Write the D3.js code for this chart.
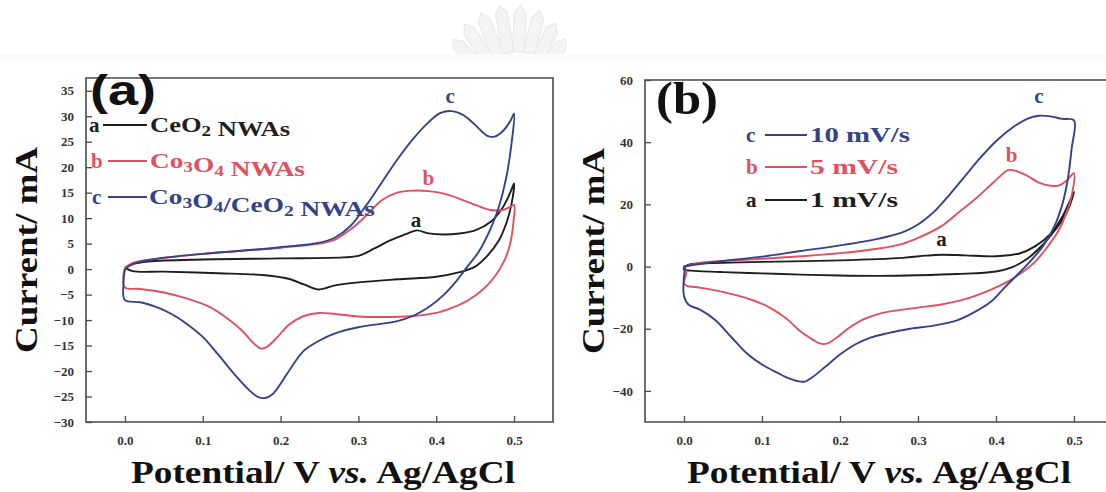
<!DOCTYPE html>
<html>
<head>
<meta charset="utf-8">
<script src="https://cdnjs.cloudflare.com/ajax/libs/d3/7.8.5/d3.min.js"></script>
<style>
  html, body { margin: 0; padding: 0; background: #fff; }
  svg { display: block; }
  text { font-family: "Liberation Serif", "Times New Roman", serif; font-weight: bold; }
</style>
</head>
<body>
<svg id="chart" width="1106" height="492"></svg>
<script>
// ---------------- DATA ----------------
const xTicks = [0.0, 0.1, 0.2, 0.3, 0.4, 0.5];
const xTickLabels = ["0.0", "0.1", "0.2", "0.3", "0.4", "0.5"];
const yTicksA = [35, 30, 25, 20, 15, 10, 5, 0, -5, -10, -15, -20, -25, -30];
const yTicksB = [60, 40, 20, 0, -20, -40];

const seriesNamesB = ["10 mV/s", "5 mV/s", "1 mV/s"];

// Panel (a): potential (V), current (mA) — closed CV loops
const cvA_CeO2 = [
  [0.0,0.3],[0.01,1.0],[0.03,1.5],[0.1,1.9],[0.2,2.1],[0.28,2.3],[0.3,2.6],[0.32,4.0],[0.34,5.6],[0.36,6.8],
  [0.375,7.6],[0.39,7.0],[0.41,6.8],[0.43,7.0],[0.45,7.6],[0.47,9.3],[0.485,12],[0.495,15],[0.5,16.8],
  [0.497,13],[0.49,9],[0.48,5.5],[0.465,2.5],[0.45,0.5],[0.43,-0.6],[0.4,-1.5],[0.35,-2.0],[0.3,-2.6],
  [0.27,-3.2],[0.248,-4.0],[0.23,-3.0],[0.21,-1.9],[0.18,-1.2],[0.12,-0.8],[0.05,-0.5],[0.01,-0.4],[0.0,0.3]
];
const cvA_Co3O4 = [
  [0.0,0.2],[0.01,1.2],[0.04,2.0],[0.1,3.0],[0.15,3.6],[0.2,4.2],[0.25,5.0],[0.27,5.8],[0.29,7.8],[0.31,10.5],
  [0.33,13.5],[0.35,15.0],[0.37,15.4],[0.39,15.3],[0.41,14.8],[0.43,13.8],[0.45,12.6],[0.47,11.6],[0.485,11.6],
  [0.495,12.2],[0.5,12.6],
  [0.499,9],[0.495,5],[0.487,1.5],[0.475,-1.5],[0.46,-4.0],[0.44,-6.2],[0.42,-7.6],[0.4,-8.6],[0.37,-9.2],
  [0.33,-9.4],[0.3,-9.3],[0.27,-8.8],[0.25,-8.6],[0.23,-9.2],[0.21,-11],[0.195,-13.5],[0.182,-15.3],[0.175,-15.6],
  [0.165,-14.5],[0.15,-12],[0.13,-9.5],[0.11,-7.5],[0.08,-5.8],[0.05,-4.6],[0.02,-3.9],[0.0,-3.6],[-0.002,-1.5],[0.0,0.2]
];
const cvA_Composite = [
  [0.0,0.0],[0.01,1.0],[0.04,2.0],[0.1,3.0],[0.15,3.6],[0.2,4.3],[0.25,5.2],[0.27,6.2],[0.29,8.5],[0.31,12.5],
  [0.33,17],[0.35,21.5],[0.37,25.5],[0.39,28.8],[0.405,30.6],[0.42,31],[0.435,30.2],[0.45,28.3],[0.465,26.2],
  [0.475,26],[0.485,27],[0.495,29],[0.5,30.5],
  [0.497,25],[0.49,18],[0.48,12],[0.47,8],[0.455,3.5],[0.44,0.5],[0.425,-2.5],[0.41,-5],[0.39,-7.5],[0.37,-9.2],
  [0.35,-10.2],[0.3,-11.4],[0.27,-12.6],[0.25,-14],[0.23,-16],[0.215,-19],[0.2,-22.5],[0.19,-24.5],[0.18,-25.3],
  [0.17,-25],[0.16,-23.8],[0.14,-20.5],[0.12,-16.8],[0.1,-13.3],[0.08,-10.8],[0.06,-8.8],[0.04,-7.4],[0.02,-6.5],
  [0.0,-6.1],[-0.002,-3],[0.0,0.0]
];

// Panel (b): composite at three scan rates
const cvB_1 = [
  [0.0,0.0],[0.01,0.8],[0.05,1.2],[0.1,1.5],[0.2,2.0],[0.28,2.8],[0.31,3.5],[0.33,3.8],[0.36,3.6],[0.4,3.3],
  [0.43,4.2],[0.45,6.5],[0.47,10.5],[0.485,16],[0.5,24],
  [0.49,17],[0.475,11.5],[0.46,7],[0.44,2.5],[0.42,-0.3],[0.4,-1.6],[0.35,-2.4],[0.3,-2.8],[0.25,-3.0],
  [0.2,-2.9],[0.15,-2.6],[0.1,-2.2],[0.05,-1.8],[0.01,-1.3],[0.0,-1.0],[0.0,0.0]
];
const cvB_5 = [
  [0.0,0.0],[0.02,1.2],[0.05,1.8],[0.1,2.5],[0.15,3.3],[0.2,4.3],[0.25,5.8],[0.28,7.3],[0.3,9.2],[0.33,13],
  [0.35,17],[0.37,21],[0.39,25.5],[0.405,29],[0.415,31],[0.425,30.8],[0.44,29.2],[0.455,27],[0.47,26],[0.48,26],
  [0.49,27.5],[0.5,30],
  [0.498,24],[0.49,17],[0.48,11.5],[0.465,6],[0.45,1.5],[0.43,-2.5],[0.41,-5.5],[0.39,-7.8],[0.36,-10.5],
  [0.33,-12.2],[0.3,-13.2],[0.27,-14.2],[0.25,-15.2],[0.23,-17],[0.21,-20],[0.195,-23],[0.183,-24.8],[0.175,-24.8],
  [0.165,-23.5],[0.15,-21],[0.13,-16.5],[0.11,-13.2],[0.09,-11],[0.06,-8.8],[0.03,-7.2],[0.015,-6.6],[0.005,-6.3],
  [0.0,-5.5],[0.003,-2],[0.0,0.0]
];
const cvB_10 = [
  [0.0,0.0],[0.02,0.8],[0.05,1.8],[0.1,3.2],[0.15,5],[0.2,6.8],[0.25,9],[0.28,11],[0.3,13.5],[0.32,17.5],
  [0.34,23],[0.36,29],[0.38,35],[0.4,40.3],[0.42,44.5],[0.44,47.5],[0.455,48.5],[0.47,48.3],[0.485,47.5],[0.5,47],
  [0.497,38],[0.492,28],[0.485,20],[0.475,13],[0.46,6.5],[0.445,2],[0.43,-2],[0.41,-7],[0.395,-11],[0.37,-15],
  [0.35,-17.3],[0.32,-19],[0.29,-20],[0.26,-21.5],[0.24,-22.8],[0.22,-25],[0.2,-28.3],[0.18,-32.5],[0.165,-35.5],
  [0.155,-37],[0.145,-36.8],[0.13,-35.5],[0.12,-34.2],[0.1,-31.5],[0.08,-27.8],[0.06,-22.5],[0.04,-17.2],
  [0.02,-13.8],[0.006,-12.3],[0.0,-9.5],[0.0,-3],[0.002,0.0]
];

// ---------------- STYLE ----------------
const C_BLACK = "#1e1e1e", C_RED = "#e0505f", C_BLUE = "#34428a";
const FRAME = "#4a4a4a";

const svg = d3.select("#chart");

// faint watermark at top (decorative), clipped above the light band
svg.append("defs").append("clipPath").attr("id", "wmclip")
  .append("rect").attr("x", 0).attr("y", 0).attr("width", 1106).attr("height", 54);
svg.append("rect").attr("x", 0).attr("y", 54).attr("width", 1106).attr("height", 8).attr("fill", "#fbfbfb");
const wm = svg.append("g").attr("clip-path", "url(#wmclip)")
  .attr("fill", "#f4f4f4").attr("stroke", "#e6e6e6").attr("stroke-width", 1);
[[-58,36],[-46,40],[-34,44],[-22,46],[-10,48],[2,47],[14,44],[26,38],[38,30],[50,24],[62,18]].forEach(([ang,len]) => {
  wm.append("path")
    .attr("d", `M-6,0 L-6,${-len+8} L0,${-len} L6,${-len+8} L6,0 Z`)
    .attr("transform", `translate(517,102) rotate(${ang}) translate(0,-50)`);
});

function panel(opts) {
  const { x, y, yTicks, yMinorStep, series } = opts;
  const g = svg.append("g");
  const [x0, x1] = x.range();
  const [y0, y1] = y.range(); // bottom, top

  g.append("path")
    .attr("d", `M${x0},${y1}H${x1}V${y0}H${x0}Z`)
    .attr("fill", "none").attr("stroke", FRAME).attr("stroke-width", 1.6);

  // bottom axis, inward ticks
  const xMinor = d3.range(-0.05, 0.551, 0.05).filter(v => v > -0.049 && v < 0.549);
  const xb = g.append("g").attr("transform", `translate(0,${y0})`);
  xb.call(d3.axisBottom(x).tickValues(xMinor).tickSize(-3).tickFormat(""));
  xb.call(d3.axisBottom(x).tickValues(xTicks).tickSize(-6).tickFormat((d, i) => xTickLabels[i]).tickPadding(14));
  xb.select(".domain").remove();
  xb.selectAll("line").attr("stroke", FRAME).attr("stroke-width", 1.3);
  xb.selectAll("text").attr("font-size", 13).attr("fill", "#333");

  // left axis, inward ticks
  const [d0, d1] = y.domain();
  const yMinor = d3.range(Math.ceil(d0), d1 + 0.001, yMinorStep);
  const yl = g.append("g").attr("transform", `translate(${x0},0)`);
  yl.call(d3.axisLeft(y).tickValues(yMinor).tickSize(-3).tickFormat(""));
  yl.call(d3.axisLeft(y).tickValues(yTicks).tickSize(-6).tickPadding(12));
  yl.select(".domain").remove();
  yl.selectAll("line").attr("stroke", FRAME).attr("stroke-width", 1.3);
  yl.selectAll("text").attr("font-size", 13).attr("fill", "#333");

  const line = d3.line().x(d => x(d[0])).y(d => y(d[1])).curve(d3.curveCatmullRom.alpha(0.5));
  series.forEach(s => {
    g.append("path").attr("d", line(s.data)).attr("fill", "none")
      .attr("stroke", s.color).attr("stroke-width", 1.9).attr("stroke-linejoin", "round");
    g.append("text").attr("x", x(s.label[0])).attr("y", y(s.label[1]))
      .attr("text-anchor", "middle").attr("dominant-baseline", "central")
      .attr("font-size", 21).attr("fill", s.color).text(s.letter);
  });
  return g;
}

// ---------- Panel (a) ----------
const xA = d3.scaleLinear().domain([-0.05, 0.55]).range([86, 553]);
const yA = d3.scaleLinear().domain([-30, 37.5]).range([422, 78]);
panel({
  x: xA, y: yA, yTicks: yTicksA, yMinorStep: 1,
  series: [
    { data: cvA_CeO2, color: C_BLACK, letter: "a", label: [0.374, 9.6] },
    { data: cvA_Co3O4, color: C_RED, letter: "b", label: [0.39, 17.8] },
    { data: cvA_Composite, color: C_BLUE, letter: "c", label: [0.418, 34] }
  ]
});

// ---------- Panel (b) ----------
const xB = d3.scaleLinear().domain([-0.05, 0.55]).range([645, 1113]);
const yB = d3.scaleLinear().domain([-50, 60]).range([422, 80]);
panel({
  x: xB, y: yB, yTicks: yTicksB, yMinorStep: 10,
  series: [
    { data: cvB_1, color: C_BLACK, letter: "a", label: [0.33, 8.8] },
    { data: cvB_5, color: C_RED, letter: "b", label: [0.42, 36] },
    { data: cvB_10, color: C_BLUE, letter: "c", label: [0.455, 55] }
  ]
});

// ---------- Panel labels ----------
svg.append("text").attr("x", 90).attr("y", 105)
  .style("font-family", "'Liberation Sans', Arial, sans-serif").style("font-weight", "bold")
  .attr("font-size", 42).attr("fill", "#111")
  .attr("textLength", 66).attr("lengthAdjust", "spacingAndGlyphs").text("(a)");
svg.append("text").attr("x", 656).attr("y", 114).attr("font-size", 46)
  .attr("fill", "#111").attr("textLength", 62).attr("lengthAdjust", "spacingAndGlyphs").text("(b)");

// ---------- Legends ----------
function legendRow(parent, lx, ly, letter, color, lineX0, lineX1, textX, textLen, parts) {
  parent.append("text").attr("x", lx).attr("y", ly).attr("dominant-baseline", "central")
    .attr("font-size", 21).attr("fill", color).text(letter);
  parent.append("line").attr("x1", lineX0).attr("x2", lineX1).attr("y1", ly).attr("y2", ly)
    .attr("stroke", color).attr("stroke-width", 1.8);
  const t = parent.append("text").attr("x", textX).attr("y", ly + 7).attr("font-size", 21)
    .attr("fill", color).attr("textLength", textLen).attr("lengthAdjust", "spacingAndGlyphs");
  parts.forEach(p => {
    if (p.sub) {
      t.append("tspan").attr("dy", 4).attr("font-size", 15).text(p.t);
      t.append("tspan").attr("dy", -4).text("");
    } else {
      t.append("tspan").text(p.t);
    }
  });
}
const legA = svg.append("g");
legendRow(legA, 89, 125, "a", C_BLACK, 103, 147, 150, 140,
  [{t:"CeO"},{t:"2",sub:true},{t:" NWAs"}]);
legendRow(legA, 91, 161, "b", C_RED, 108, 147, 150, 155,
  [{t:"Co"},{t:"3",sub:true},{t:"O"},{t:"4",sub:true},{t:" NWAs"}]);
legendRow(legA, 92, 197, "c", C_BLUE, 108, 147, 149, 226,
  [{t:"Co"},{t:"3",sub:true},{t:"O"},{t:"4",sub:true},{t:"/CeO"},{t:"2",sub:true},{t:" NWAs"}]);

const legB = svg.append("g");
legendRow(legB, 746, 135, "c", C_BLUE, 765, 807, 810, 100, [{t:seriesNamesB[0]}]);
legendRow(legB, 746, 167, "b", C_RED, 765, 807, 810, 88, [{t:seriesNamesB[1]}]);
legendRow(legB, 746, 200, "a", C_BLACK, 765, 807, 810, 88, [{t:seriesNamesB[2]}]);

// ---------- Axis titles ----------
function xTitle(cx) {
  const t = svg.append("text").attr("x", cx).attr("y", 483).attr("text-anchor", "middle")
    .attr("font-size", 32).attr("fill", "#111").attr("textLength", 384).attr("lengthAdjust", "spacingAndGlyphs");
  t.append("tspan").text("Potential/ V ");
  t.append("tspan").attr("font-style", "italic").text("vs.");
  t.append("tspan").text(" Ag/AgCl");
}
xTitle(323);
xTitle(879);

function yTitle(cx, cy) {
  svg.append("text").attr("transform", `translate(${cx},${cy}) rotate(-90)`)
    .attr("text-anchor", "middle").attr("dominant-baseline", "central")
    .attr("font-size", 32).attr("fill", "#111").attr("textLength", 206)
    .attr("lengthAdjust", "spacingAndGlyphs").text("Current/ mA");
}
yTitle(26, 250);
yTitle(593, 251);
</script>
</body>
</html>
